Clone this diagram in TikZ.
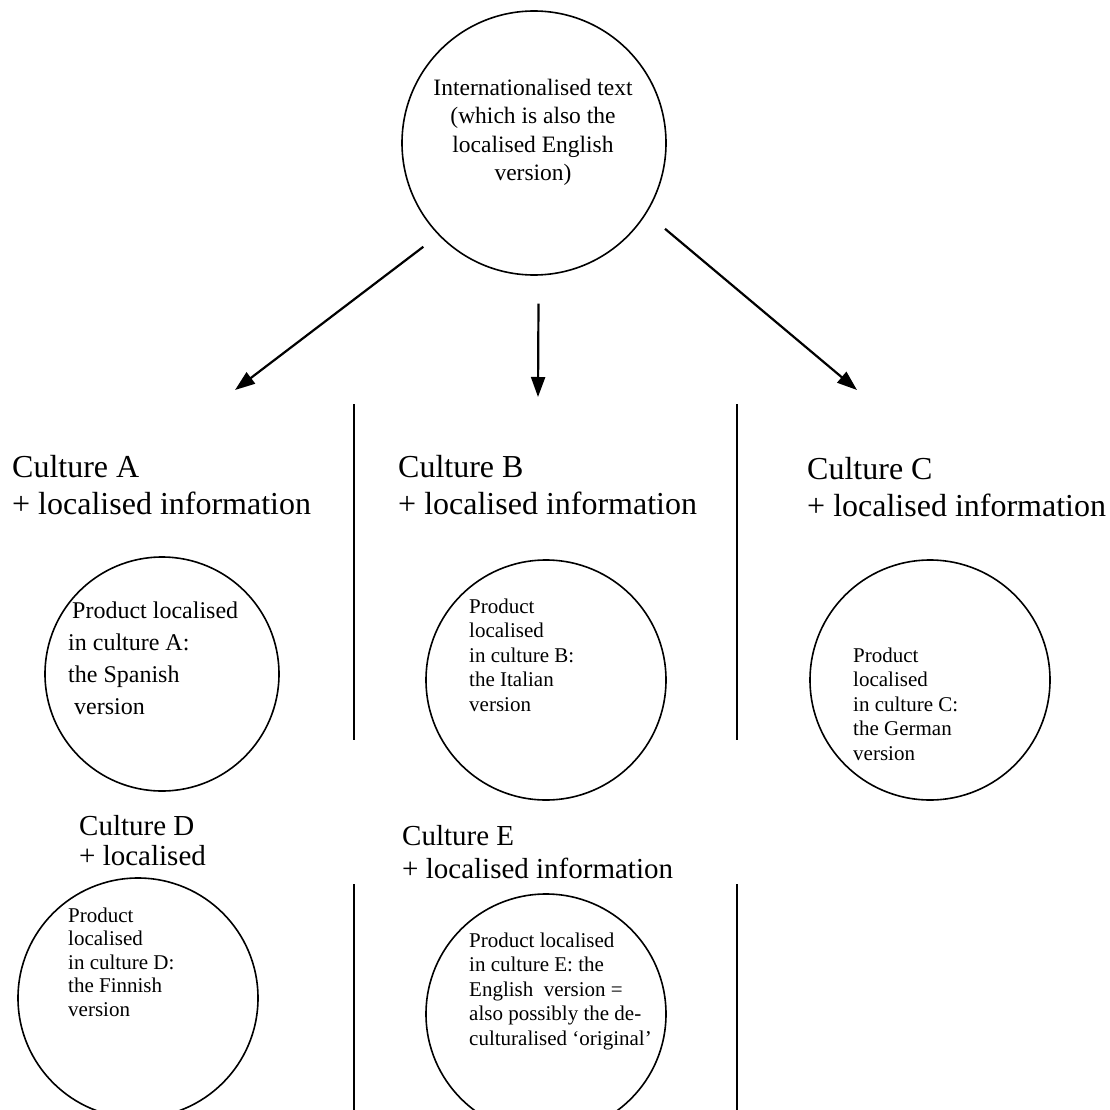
\documentclass[tikz,border=0pt]{standalone}
\usepackage{fontspec}
\setmainfont{Liberation Serif}
\usetikzlibrary{arrows.meta, positioning}

\tikzset{
  bubble/.style={draw, circle, line width=1.6pt, minimum size=240pt, inner sep=0pt},
  inside/.style={anchor=north west, inner sep=0pt, align=left, font=\fontsize{21}{24.5}\selectfont},
  culture/.style={anchor=north west, inner sep=0pt, align=left, font=\fontsize{32}{37}\selectfont},
  arr/.style={line width=2.2pt, -{Triangle[length=20pt,width=14pt]}},
  sep/.style={line width=2.4pt},
}

\begin{document}
\begin{tikzpicture}[x=1pt, y=-1pt]
    \useasboundingbox (0,0) rectangle (1109,1110);
    % source text
    \node[bubble, minimum size=264pt] (intl) at (534,143) {};
    \node[inside, align=center, anchor=north, font=\fontsize{23.5}{28.3}\selectfont] (intltxt) at (533,79) {Internationalised text\\(which is also the\\localised English\\version)};
    \coordinate (tipA) at (235,390);
    \coordinate (tipB) at (538,397);
    \coordinate (tipC) at (857,390);
    \draw[arr, shorten <=19pt] (intl.224) -- (tipA);
    \draw[arr, shorten <=28pt] (intl.-88) -- (tipB);
    \draw[arr, shorten <=24pt] (intl.-32) -- (tipC);
    % separators
    \draw[sep] (354,404) -- (354,740);
    \draw[sep] (737,404) -- (737,740);
    \draw[sep] (354,884) -- (354,1110);
    \draw[sep] (737,884) -- (737,1110);
    % cultures
    \node[culture] (cultA) at (12,455) {Culture A\\+ localised information};
    \node[culture] (cultB) at (398,455) {Culture B\\+ localised information};
    \node[culture] (cultC) at (807,457) {Culture C\\+ localised information};
    \node[culture, font=\fontsize{29}{30}\selectfont] (cultD) at (79,815) {Culture D\\+ localised};
    \node[culture, font=\fontsize{29}{33}\selectfont] (cultE) at (402,825) {Culture E\\+ localised information};
    % localised products
    \node[bubble, minimum size=234pt] (prodA) at (162,674) {};
    \node[bubble] (prodB) at (546,680) {};
    \node[bubble] (prodC) at (930,680) {};
    \node[bubble] (prodD) at (138,998) {};
    \node[bubble] (prodE) at (546,1014) {};
    \node[inside, font=\fontsize{24}{32}\selectfont] (txtA) at (68,602) {\hspace{4pt}Product localised\\in culture A:\\the Spanish\\\hspace{6pt}version};
    \node[inside] (txtB) at (469,598.5) {Product\\localised\\in culture B:\\the Italian\\version};
    \node[inside] (txtC) at (853,647.5) {Product\\localised\\in culture C:\\the German\\version};
    \node[inside, font=\fontsize{21}{23.5}\selectfont] (txtD) at (68,907.5) {Product\\localised\\in culture D:\\the Finnish\\version};
    \node[inside] (txtE) at (469,932.5) {Product localised\\in culture E: the\\English\ \ version =\\also possibly the de-\\culturalised `original'};
\end{tikzpicture}
\end{document}
